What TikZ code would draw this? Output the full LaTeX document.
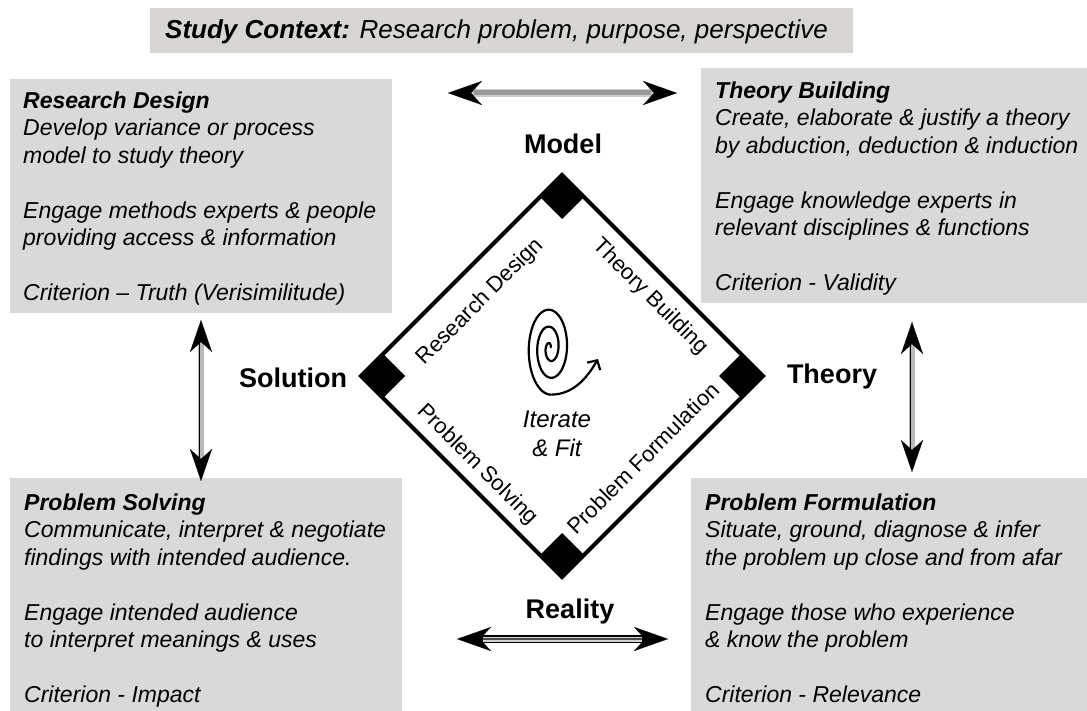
\documentclass[tikz,border=0pt]{standalone}
\usepackage{fontspec}
\setmainfont{Liberation Sans}
\usetikzlibrary{arrows.meta}
\definecolor{boxgray}{HTML}{D9D9D9}
\definecolor{ctxgray}{HTML}{D7D6D2}
\tikzset{
  hhead/.tip={Stealth[length=34pt,width=24pt,inset=11pt,line width=0.1pt,color=black]},
  vhead/.tip={Stealth[length=32pt,width=22pt,inset=10pt,line width=0.1pt,color=black]},
}
\begin{document}
\begin{tikzpicture}[x=1pt,y=-1pt,
  box/.style={fill=boxgray, draw=none, anchor=north west, inner sep=0pt},
  boxtext/.style={anchor=north west, inner sep=0pt, align=left, font=\fontsize{23}{27.5}\selectfont\itshape},
  pole/.style={font=\fontsize{27}{32}\selectfont\bfseries, anchor=base, inner sep=0pt},
  side/.style={font=\fontsize{22}{26}\selectfont, inner sep=0pt},
]
\useasboundingbox (0,0) rectangle (1087,711);
\fill[white] (0,0) rectangle (1087,711);

% boxes
\node[box, fill=ctxgray, minimum width=703pt, minimum height=45pt] (ctx) at (150,8) {};
\node[anchor=base west, inner sep=0pt, font=\fontsize{26}{30}\selectfont] (ctxt) at (165,38.5)
  {\textbf{\textit{Study Context:}} \textit{Research problem, purpose, perspective}};

\node[box, minimum width=382pt, minimum height=234pt] (rd) at (10,79) {};
\node[box, minimum width=386pt, minimum height=235pt] (tb) at (701,68) {};
\node[box, minimum width=392pt, minimum height=233pt] (ps) at (10,478) {};
\node[box, minimum width=396pt, minimum height=233pt] (pf) at (691,478) {};

\node[boxtext] (rdt) at (23,89) {\strut\textbf{Research Design}\\
  Develop variance or process\\
  model to study theory\\[27.5pt]
  Engage methods experts \& people\\
  providing access \& information\\[27.5pt]
  Criterion – Truth (Verisimilitude)};

\node[boxtext] (tbt) at (715,79) {\strut\textbf{Theory Building}\\
  Create, elaborate \& justify a theory\\
  by abduction, deduction \& induction\\[27.5pt]
  Engage knowledge experts in\\
  relevant disciplines \& functions\\[27.5pt]
  Criterion - Validity};

\node[boxtext] (pst) at (24,491) {\strut\textbf{Problem Solving}\\
  Communicate, interpret \& negotiate\\
  findings with intended audience.\\[27.5pt]
  Engage intended audience\\
  to interpret meanings \& uses\\[27.5pt]
  Criterion - Impact};

\node[boxtext] (pft) at (705,491) {\strut\textbf{Problem Formulation}\\
  Situate, ground, diagnose \& infer\\
  the problem up close and from afar\\[27.5pt]
  Engage those who experience\\
  \& know the problem\\[27.5pt]
  Criterion - Relevance};

% diamond
\coordinate (T) at (562,175);
\coordinate (R) at (763,376);
\coordinate (B) at (562,577);
\coordinate (L) at (361,376);
\draw[line width=4pt, line join=miter] (T) -- (R) -- (B) -- (L) -- cycle;
\fill (T) -- ++(22,22) -- ++(-22,22) -- ++(-22,-22) -- cycle;
\fill (L) -- ++(22,-22) -- ++(22,22) -- ++(-22,22) -- cycle;
\fill (R) -- ++(-22,-22) -- ++(-22,22) -- ++(22,22) -- cycle;
\fill (B) -- ++(22,-22) -- ++(-22,-22) -- ++(-22,22) -- cycle;

% side labels
\node[side, rotate=45] (lrd) at (480.5,302) {Research Design};
\node[side, rotate=-45] (ltb) at (650,297) {Theory Building};
\node[side, rotate=-45] (lps) at (477,465) {Problem Solving};
\node[side, rotate=45] (lpf) at (643,458) {Problem Formulation};

% spiral
\coordinate (sptip) at (598,359);
\draw[line width=2.2pt, -{Straight Barb[length=7pt,width=15pt]}]
  plot[domain=0.3:17.28, samples=260, smooth, variable=\t]
  ({550+1.35*\t*cos(\t r)}, {348-2.7*\t*sin(\t r)})
  .. controls (573,395) and (587,378) .. (sptip);
\node[font=\fontsize{24}{29}\selectfont\itshape, align=center, inner sep=0pt] (it) at (557,433.6) {Iterate\\\& Fit};

% pole labels
\node[pole] (model) at (563,154) {Model};
\node[pole] (sol) at (293,387) {Solution};
\node[pole] (theo) at (832,383) {Theory};
\node[pole] (real) at (570,618) {Reality};

% arrows
\coordinate (ta1) at (448,93);
\coordinate (ta2) at (677,93);
\draw[line width=8pt, draw=gray!40, hhead-hhead] (ta1) -- (ta2);
\draw[line width=5pt, draw=gray!80, shorten <=26pt, shorten >=26pt] (ta1) -- (ta2);

\coordinate (ba1) at (457,639);
\coordinate (ba2) at (668,639);
\draw[line width=8pt, black, hhead-hhead] (ba1) -- (ba2);
\draw[line width=5pt, draw=gray!35, shorten <=26pt, shorten >=26pt] (ba1) -- (ba2);
\draw[line width=1.2pt, draw=gray!60!black, shorten <=26pt, shorten >=26pt] (ba1) -- (ba2);

\coordinate (la1) at (201,320);
\coordinate (la2) at (201,481);
\draw[line width=6pt, draw=gray!55, vhead-vhead] (la1) -- (la2);
\draw[line width=1.8pt, black, shorten <=22pt, shorten >=22pt] ([xshift=-1.5pt]la1) -- ([xshift=-1.5pt]la2);

\coordinate (ra1) at (912,322);
\coordinate (ra2) at (912,472);
\draw[line width=6pt, draw=gray!55, vhead-vhead] (ra1) -- (ra2);
\draw[line width=1.8pt, black, shorten <=22pt, shorten >=22pt] ([xshift=-1.5pt]ra1) -- ([xshift=-1.5pt]ra2);
\end{tikzpicture}
\end{document}
